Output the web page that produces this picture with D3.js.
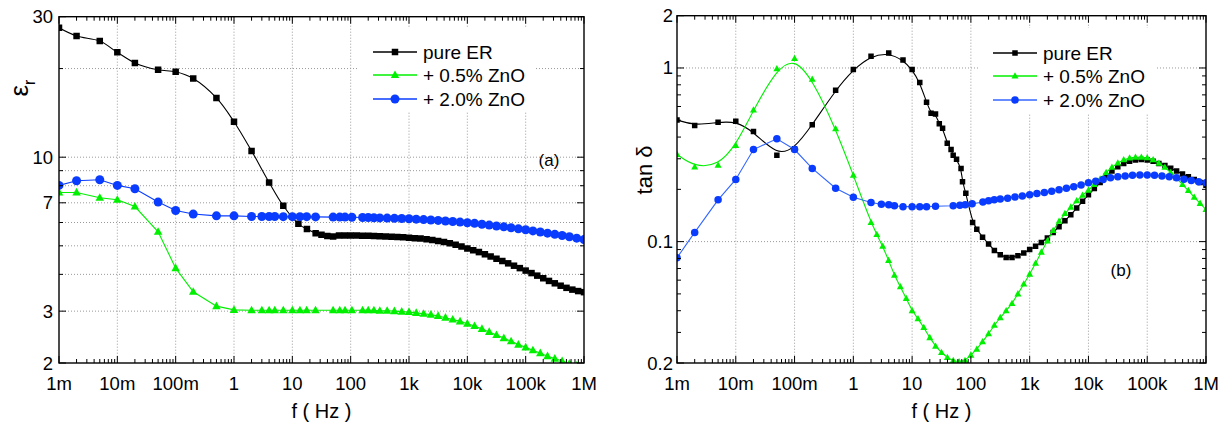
<!DOCTYPE html>
<html><head><meta charset="utf-8">
<script src="https://cdn.jsdelivr.net/npm/d3@7"></script>
<style>
body{margin:0;background:#fff}
text{font-family:"Liberation Sans",Arial,sans-serif;fill:#000}
</style>
</head><body>
<svg id="c" width="1223" height="425"></svg>
<script>
// ---------------- DATA ----------------
const seriesNames = ["pure ER", "+ 0.5% ZnO", "+ 2.0% ZnO"];
const xTickValues = [1e-3,1e-2,1e-1,1,10,100,1e3,1e4,1e5,1e6];
const xTickLabels = ["1m","10m","100m","1","10","100","1k","10k","100k","1M"];
const epsTickValues = [30,10,7,3,2];
const epsTickLabels = ["30","10","7","3","2"];
const epsGridValues = [20,10,9,8,7,6,5,4,3];
const tanTickValues = [2,1,0.1,0.02];
const tanTickLabels = ["2","1","0.1","0.2"];
const tanGridValues = [1,0.1];

// frequency lists (Hz)
const freqLow = [0.001,0.002,0.005,0.01,0.02,0.05,0.1,0.2,0.5,1,2];
const freqStep10 = [2.51,3.16,3.98,5.01,6.31,7.94,10,12.6,15.8,20,25.1,31.6,39.8,50.1,63.1,79.4,100,126,158,200,251,316,398,501,631,794,1e3,1.26e3,1.58e3,2e3,2.51e3,3.16e3,3.98e3,5.01e3,6.31e3,7.94e3,1e4,1.26e4,1.58e4,2e4,2.51e4,3.16e4,3.98e4,5.01e4,6.31e4,7.94e4,1e5,1.26e5,1.58e5,2e5,2.51e5,3.16e5,3.98e5,5.01e5,6.31e5,7.94e5,1e6];
const freqBlueMid = [3,4,5,7,10,13.5,17.6,25,50,65,80,105,160,200,250];
const freqBlueHigh = [316,422,562,750,1e3,1.33e3,1.78e3,2.37e3,3.16e3,4.22e3,5.62e3,7.5e3,1e4,1.33e4,1.78e4,2.37e4,3.16e4,4.22e4,5.62e4,7.5e4,1e5,1.33e5,1.78e5,2.37e5,3.16e5,4.22e5,5.62e5,7.5e5,1e6];
const freqBlackAMid = [4,7,12.7,17.8];
const freqBlackBMid = [4,7,10,13.5,17.6,21,25,29,33,39.6,46,50,57,68,72,82,107];

// (a) permittivity
const epsPureLow = [27.5,25.8,24.8,22.7,20.9,19.8,19.5,18.5,15.9,13.2,10.5];
const epsPureMid = [8.21,6.84,5.94,5.70];
const epsPureHigh = [5.52,5.45,5.40,5.38,5.42,5.42,5.42,5.42,5.41,5.41,5.40,5.39,5.38,5.37,5.36,5.35,5.33,5.31,5.29,5.26,5.23,5.19,5.15,5.10,5.04,4.97,4.90,4.83,4.76,4.68,4.60,4.52,4.44,4.36,4.28,4.20,4.12,4.04,3.96,3.88,3.80,3.73,3.66,3.60,3.55,3.51,3.48];
const eps05Low = [7.59,7.59,7.28,7.17,6.80,5.58,4.2,3.49,3.12,3.03,3.02];
const eps05Mid = [3.02,3.02,3.02,3.02,3.02,3.02,3.02,3.02,3.02,3.02,3.02,3.02,3.02,3.02,3.02];
const eps05High = [3.01,3.01,3.0,2.99,2.98,2.96,2.94,2.92,2.89,2.85,2.81,2.77,2.72,2.67,2.61,2.55,2.49,2.43,2.37,2.31,2.26,2.21,2.16,2.11,2.07,2.03,1.99,1.96,1.93];
const eps20Low = [8.02,8.32,8.38,8.02,7.81,7.04,6.59,6.41,6.32,6.32,6.29];
const eps20Mid = [6.29,6.29,6.29,6.28,6.28,6.28,6.28,6.27,6.26,6.26,6.26,6.25,6.24,6.24,6.23];
const eps20High = [6.22,6.21,6.2,6.19,6.18,6.16,6.14,6.12,6.10,6.07,6.05,6.02,5.99,5.96,5.92,5.88,5.84,5.80,5.76,5.71,5.67,5.62,5.57,5.52,5.47,5.42,5.37,5.31,5.25];

// (b) loss tangent
const tanPureLow = [0.502,0.466,0.487,0.493,0.431,0.314,0.343,0.471,0.745,0.98,1.17];
const tanPureMid = [1.22,1.11,0.98,0.824,0.634,0.548,0.543,0.477,0.45,0.369,0.339,0.314,0.298,0.264,0.221,0.19,0.129];
const tanPureHigh = [0.118,0.106,0.097,0.089,0.084,0.081,0.081,0.083,0.086,0.09,0.094,0.099,0.105,0.113,0.122,0.132,0.143,0.156,0.171,0.186,0.202,0.219,0.238,0.255,0.27,0.282,0.29,0.295,0.297,0.295,0.29,0.282,0.274,0.265,0.255,0.245,0.236,0.228,0.219,0.211];
const tan05Low = [0.318,0.269,0.275,0.358,0.573,0.99,1.135,0.86,0.447,0.241,0.129];
const tan05High = [0.11,0.094,0.078,0.064,0.055,0.047,0.040,0.036,0.032,0.028,0.025,0.023,0.0215,0.0207,0.0203,0.0207,0.0222,0.024,0.0265,0.0295,0.033,0.0365,0.040,0.044,0.050,0.057,0.065,0.075,0.087,0.101,0.116,0.131,0.145,0.158,0.172,0.185,0.198,0.213,0.229,0.25,0.268,0.284,0.296,0.303,0.306,0.306,0.304,0.296,0.283,0.268,0.25,0.232,0.213,0.197,0.18,0.166,0.153];
const tan20Low = [0.0807,0.113,0.174,0.228,0.339,0.391,0.339,0.264,0.203,0.18,0.168];
const tan20Mid = [0.164,0.163,0.161,0.159,0.159,0.159,0.159,0.16,0.161,0.162,0.163,0.165,0.169,0.172,0.174];
const tan20High = [0.176,0.178,0.181,0.183,0.186,0.189,0.192,0.195,0.199,0.203,0.207,0.212,0.218,0.223,0.228,0.233,0.236,0.239,0.241,0.242,0.242,0.241,0.239,0.236,0.233,0.229,0.225,0.221,0.218];

// ---------------- BUILD ----------------
const zip = (f, v) => f.map((x, i) => ({f: x, v: v[i]}));
const freqBlue = freqLow.concat(freqBlueMid, freqBlueHigh);
const GREEN = "#00f000";
const panelA = {
  x: d3.scaleLog().domain([1e-3, 1e6]).range([59, 584]),
  y: d3.scaleLog().domain([2, 30]).range([363, 16.7]),
  series: [
    {data: zip(freqLow.concat(freqBlackAMid, freqStep10.slice(10)), epsPureLow.concat(epsPureMid, epsPureHigh)), color: "#000", mcolor: "#000", marker: "square", curve: d3.curveCatmullRom, size: 6.5},
    {data: zip(freqBlue, eps05Low.concat(eps05Mid, eps05High)), color: GREEN, mcolor: GREEN, marker: "triangle", curve: d3.curveLinear, size: 8.5},
    {data: zip(freqBlue, eps20Low.concat(eps20Mid, eps20High)), color: "#0a3cff", mcolor: "#0a3cff", marker: "circle", curve: d3.curveLinear, size: 9}
  ],
  yTicks: epsTickValues, yLabels: epsTickLabels, yGrid: epsGridValues, labelGap: 6,
  legend: {x0: 373, x1: 417, tx: 423, rows: [52, 75, 99], box: [357, 28, 178, 83]},
  tag: {text: "(a)", x: 549, y: 166}
};
const panelB = {
  x: d3.scaleLog().domain([1e-3, 1e6]).range([677, 1206]),
  y: d3.scaleLog().domain([0.02, 2]).range([363, 15.7]),
  series: [
    {data: zip(freqLow.concat(freqBlackBMid, freqStep10.slice(17)), tanPureLow.concat(tanPureMid, tanPureHigh)), color: "#000", mcolor: "#000", marker: "square", curve: d3.curveBasis, size: 5.5},
    {data: zip(freqLow.concat(freqStep10), tan05Low.concat(tan05High)), color: GREEN, mcolor: GREEN, marker: "triangle", curve: d3.curveBasis, size: 7},
    {data: zip(freqBlue, tan20Low.concat(tan20Mid, tan20High)), color: "#3366ff", mcolor: "#0a3cff", marker: "circle", curve: d3.curveLinear, size: 7.5}
  ],
  yTicks: tanTickValues, yLabels: tanTickLabels, yGrid: tanGridValues, labelGap: 4,
  legend: {x0: 993, x1: 1037, tx: 1043, rows: [53, 76, 100], box: [979, 28, 176, 85]},
  tag: {text: "(b)", x: 1121, y: 276}
};

const svg = d3.select("#c");

function markerPath(type, s) {
  if (type === "square") return `M${-s/2},${-s/2}h${s}v${s}h${-s}Z`;
  if (type === "triangle") { const h = s * 0.9; return `M0,${-h*0.6}L${s/2},${h*0.4}L${-s/2},${h*0.4}Z`; }
  const r = s / 2; return `M${-r},0a${r},${r} 0 1,0 ${2*r},0a${r},${r} 0 1,0 ${-2*r},0Z`;
}

function drawPanel(p, id) {
  const [x0, x1] = p.x.range();
  const [y1, y0] = p.y.range();
  const g = svg.append("g");
  // grid
  const grid = g.append("g").attr("stroke", "#9a9a9a").attr("stroke-width", 1).attr("stroke-dasharray", "1,2");
  xTickValues.slice(1, -1).forEach(v => grid.append("line").attr("x1", p.x(v)).attr("x2", p.x(v)).attr("y1", y0).attr("y2", y1));
  p.yGrid.forEach(v => grid.append("line").attr("x1", x0).attr("x2", x1).attr("y1", p.y(v)).attr("y2", p.y(v)));

  // legend background (hides the grid)
  const lb = p.legend.box;
  g.append("rect").attr("x", lb[0]).attr("y", lb[1]).attr("width", lb[2]).attr("height", lb[3]).attr("fill", "#fff");

  // clip
  svg.append("clipPath").attr("id", "clip" + id).append("rect")
    .attr("x", x0).attr("y", y0).attr("width", x1 - x0).attr("height", y1 - y0);
  const plot = g.append("g").attr("clip-path", `url(#clip${id})`);

  p.series.forEach(s => {
    const line = d3.line().x(d => p.x(d.f)).y(d => p.y(d.v)).curve(s.curve);
    plot.append("path").attr("d", line(s.data)).attr("fill", "none").attr("stroke", s.color).attr("stroke-width", 1.1);
    plot.append("g").selectAll("path").data(s.data).join("path")
      .attr("transform", d => `translate(${p.x(d.f)},${p.y(d.v)})`)
      .attr("d", markerPath(s.marker, s.size)).attr("fill", s.mcolor);
  });

  // ticks (inside), x minor/major bottom and top
  const tk = g.append("g").attr("stroke", "#000").attr("stroke-width", 1);
  p.x.ticks().forEach(v => {
    const major = Math.abs(Math.log10(v) - Math.round(Math.log10(v))) < 1e-9;
    const L = major ? 7 : 4;
    tk.append("line").attr("x1", p.x(v)).attr("x2", p.x(v)).attr("y1", y1).attr("y2", y1 - L);
    tk.append("line").attr("x1", p.x(v)).attr("x2", p.x(v)).attr("y1", y0).attr("y2", y0 + L);
  });
  p.y.ticks().forEach(v => {
    const major = p.yTicks.some(t => Math.abs(t - v) / t < 1e-9);
    const L = major ? 7 : 4;
    tk.append("line").attr("x1", x0).attr("x2", x0 + L).attr("y1", p.y(v)).attr("y2", p.y(v));
    tk.append("line").attr("x1", x1).attr("x2", x1 - L).attr("y1", p.y(v)).attr("y2", p.y(v));
  });

  // frame
  g.append("rect").attr("x", x0).attr("y", y0).attr("width", x1 - x0).attr("height", y1 - y0)
    .attr("fill", "none").attr("stroke", "#000").attr("stroke-width", 1.4);

  // tick labels
  xTickValues.forEach((v, i) => g.append("text").attr("x", p.x(v)).attr("y", 390)
    .attr("text-anchor", "middle").attr("font-size", 18.5).text(xTickLabels[i]));
  p.yTicks.forEach((v, i) => g.append("text").attr("x", x0 - p.labelGap).attr("y", p.y(v) + 6.5)
    .attr("text-anchor", "end").attr("font-size", 18.5).text(p.yLabels[i]));

  // x title
  g.append("text").attr("x", (x0 + x1) / 2).attr("y", 418).attr("text-anchor", "middle")
    .attr("font-size", 20).text("f ( Hz )");

  // legend
  const L = p.legend;
  p.series.forEach((s, i) => {
    const yy = L.rows[i];
    g.append("line").attr("x1", L.x0).attr("x2", L.x1).attr("y1", yy).attr("y2", yy)
      .attr("stroke", s.color).attr("stroke-width", 1.3);
    g.append("path").attr("transform", `translate(${(L.x0 + L.x1) / 2},${yy})`)
      .attr("d", markerPath(s.marker, s.size)).attr("fill", s.mcolor);
    g.append("text").attr("x", L.tx).attr("y", yy + 6.5).attr("font-size", 19).text(seriesNames[i]);
  });

  g.append("text").attr("x", p.tag.x).attr("y", p.tag.y).attr("text-anchor", "middle")
    .attr("font-size", 17).text(p.tag.text);
}

drawPanel(panelA, "A");
drawPanel(panelB, "B");

// y titles
const ya = svg.append("text").attr("transform", "translate(28,88) rotate(-90)")
  .attr("text-anchor", "middle").attr("font-size", 26);
ya.append("tspan").text("ε");
ya.append("tspan").attr("font-size", 16).attr("dy", 7).text("r");

svg.append("text").attr("transform", "translate(652,170) rotate(-90)")
  .attr("text-anchor", "middle").attr("font-size", 22).text("tan δ");
</script>
</body></html>
